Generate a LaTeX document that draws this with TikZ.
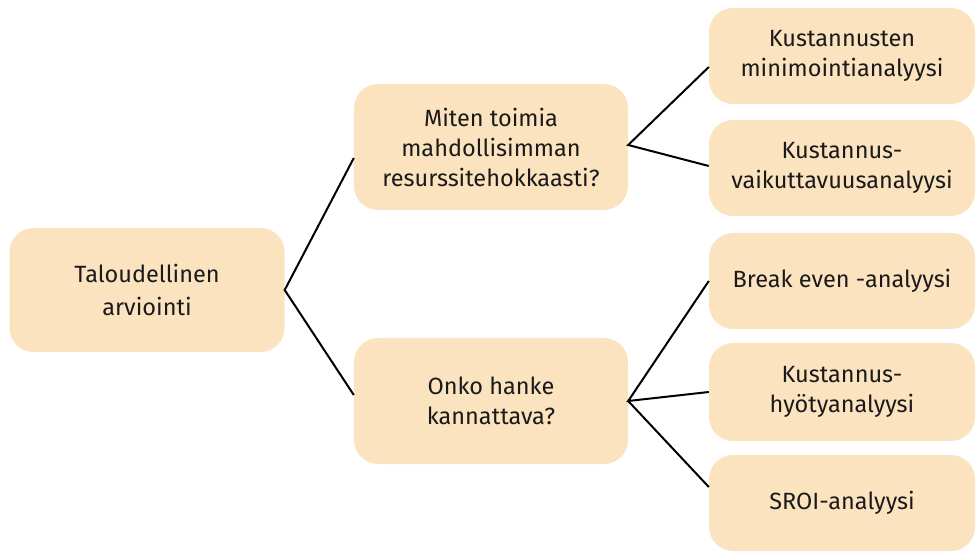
\documentclass[tikz,border=0pt]{standalone}
\usepackage{fontspec}
\setmainfont{Fira Sans}
\definecolor{boxfill}{HTML}{FCE3BF}
\definecolor{ink}{HTML}{1A1A1A}
\begin{document}
\begin{tikzpicture}[x=1pt,y=-1pt,
  box/.style 2 args={fill=boxfill, draw=none, rounded corners=24pt, align=center,
    text=ink, inner sep=0pt, minimum width=#1, minimum height=#2,
    font=\fontsize{23.5}{30}\selectfont},
  link/.style={draw=black, line width=2pt}]
\useasboundingbox (0,0) rectangle (978,553);
\node[box={275pt}{124pt}, font=\fontsize{23.5}{33}\selectfont] (root) at (147,290) {Taloudellinen\\arviointi};
\node[box={274pt}{126pt}] (q1) at (491,147) {Miten toimia\\mahdollisimman\\resurssitehokkaasti?};
\node[box={274pt}{126pt}] (q2) at (491,401) {Onko hanke\\kannattava?};
\node[box={266pt}{96pt}] (r1) at (842,56) {Kustannusten\\minimointianalyysi};
\node[box={266pt}{96pt}] (r2) at (842,168) {Kustannus-\\vaikuttavuusanalyysi};
\node[box={266pt}{96pt}] (r3) at (842,281) {Break even -analyysi};
\node[box={266pt}{98pt}] (r4) at (842,392) {Kustannus-\\hyötyanalyysi};
\node[box={266pt}{96pt}] (r5) at (842,503) {SROI-analyysi};
\draw[link] ([yshift=-11pt]q1.west) -- (root.east) -- ([yshift=6pt]q2.west);
\draw[link] ([yshift=-11pt]r1.west) -- ([yshift=2pt]q1.east) -- ([yshift=2pt]r2.west);
\draw[link] (r3.west) -- (q2.east) -- (r4.west);
\draw[link] (q2.east) -- ([yshift=16pt]r5.west);
\end{tikzpicture}
\end{document}
